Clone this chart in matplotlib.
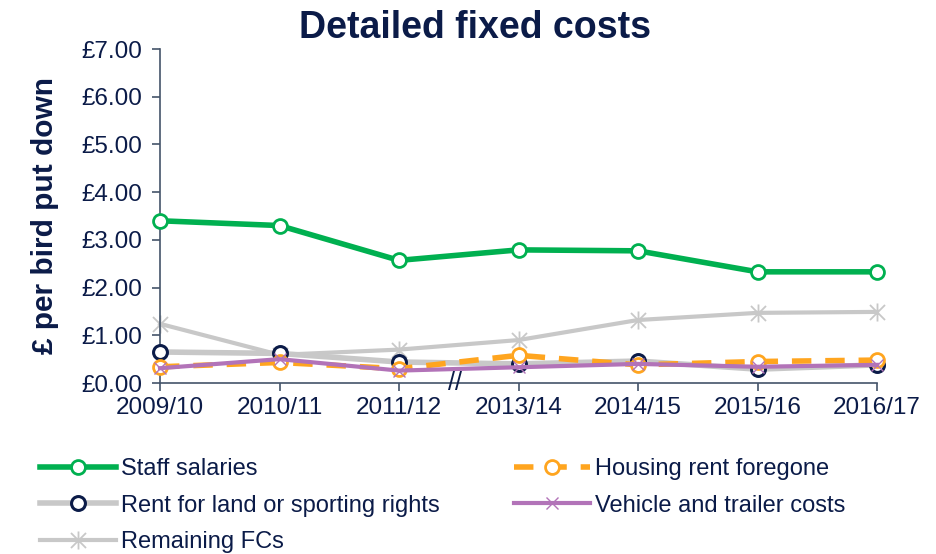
import numpy as np
import matplotlib.pyplot as plt
from matplotlib.path import Path

plt.rcParams['font.family'] = ['Liberation Sans', 'DejaVu Sans']

years = ["2009/10", "2010/11", "2011/12", "2013/14", "2014/15", "2015/16", "2016/17"]
staff_salaries = [3.40, 3.30, 2.57, 2.79, 2.77, 2.33, 2.33]
housing_rent = [0.34, 0.43, 0.30, 0.58, 0.38, 0.45, 0.48]
land_rent = [0.65, 0.62, 0.44, 0.40, 0.46, 0.29, 0.38]
vehicle_costs = [0.31, 0.50, 0.26, 0.33, 0.40, 0.34, 0.38]
remaining_fcs = [1.24, 0.59, 0.70, 0.90, 1.32, 1.47, 1.49]
yticks = [0, 1, 2, 3, 4, 5, 6, 7]

navy = '#0B1B48'
x = np.arange(len(years))

# Excel-style star: an X with a vertical bar through it
star = Path([(-1, -1), (1, 1), (-1, 1), (1, -1), (0, -1.2), (0, 1.2)],
            [Path.MOVETO, Path.LINETO] * 3)

fig = plt.figure(figsize=(9.37, 5.54), dpi=100)
ax = fig.add_axes([160 / 937, 1 - 383 / 554, (877 - 160) / 937, (383 - 49) / 554])

ax.plot(x, remaining_fcs, color='#C8C8C8', lw=3, marker=star, ms=13,
        mec='#C8C8C8', mew=1.3, label='Remaining FCs', zorder=2, clip_on=False)
ax.plot(x, land_rent, color='#C8C8C8', lw=4, marker='o', ms=10, mfc='white',
        mec=navy, mew=2.2, label='Rent for land or sporting rights', zorder=3, clip_on=False)
ax.plot(x, housing_rent, color='#FFA51F', lw=4, ls=(0, (3.5, 2.5)), marker='o', ms=10,
        mfc='white', mec='#FFA51F', mew=2, label='Housing rent foregone', zorder=4,
        clip_on=False)
ax.plot(x, vehicle_costs, color='#B273B8', lw=3, marker='x', ms=8, mec='#B273B8',
        mew=1, label='Vehicle and trailer costs', zorder=5, clip_on=False)
ax.plot(x, staff_salaries, color='#00B050', lw=4, marker='o', ms=10, mfc='white',
        mec='#00B050', mew=2, label='Staff salaries', zorder=6, clip_on=False)

ax.set_xlim(0, len(years) - 1)
ax.set_ylim(0, 7)
ax.set_xticks(x)
ax.set_xticklabels(years)
ax.set_yticks(yticks)
ax.set_yticklabels(['£%.2f' % v for v in yticks])
ax.tick_params(axis='both', colors='#44546A', labelcolor=navy, labelsize=17.5,
               length=6, width=1.2)
ax.tick_params(axis='x', pad=4)
ax.tick_params(axis='y', pad=7)
for side in ['top', 'right']:
    ax.spines[side].set_visible(False)
for side in ['left', 'bottom']:
    ax.spines[side].set_color('#44546A')
    ax.spines[side].set_linewidth(1.2)

# axis break between 2011/12 and 2013/14
ax.text(2.47, 0, '//', transform=ax.transData, ha='center', va='center',
        fontsize=18, color=navy, clip_on=False, zorder=10)

ax.set_ylabel('£ per bird put down', fontsize=21.5, fontweight='bold', color=navy, labelpad=16)
fig.text(475 / 937, 1 - 28 / 554, 'Detailed fixed costs', ha='center', va='center',
         fontsize=27, fontweight='bold', color=navy)

handles, labels = ax.get_legend_handles_labels()
hmap = dict(zip(labels, handles))
cols = [(['Staff salaries', 'Rent for land or sporting rights', 'Remaining FCs'], 40),
        (['Housing rent foregone', 'Vehicle and trailer costs'], 514)]
for names, xpos in cols:
    leg = fig.legend([hmap[n] for n in names], names, loc='upper left',
                     bbox_to_anchor=(xpos / 937, 1 - 458 / 554), frameon=False,
                     fontsize=17, handlelength=3.2, labelspacing=0.62,
                     handletextpad=0.25, borderaxespad=0, borderpad=0)
    for t in leg.get_texts():
        t.set_color(navy)

plt.savefig('out.png', dpi=100)
